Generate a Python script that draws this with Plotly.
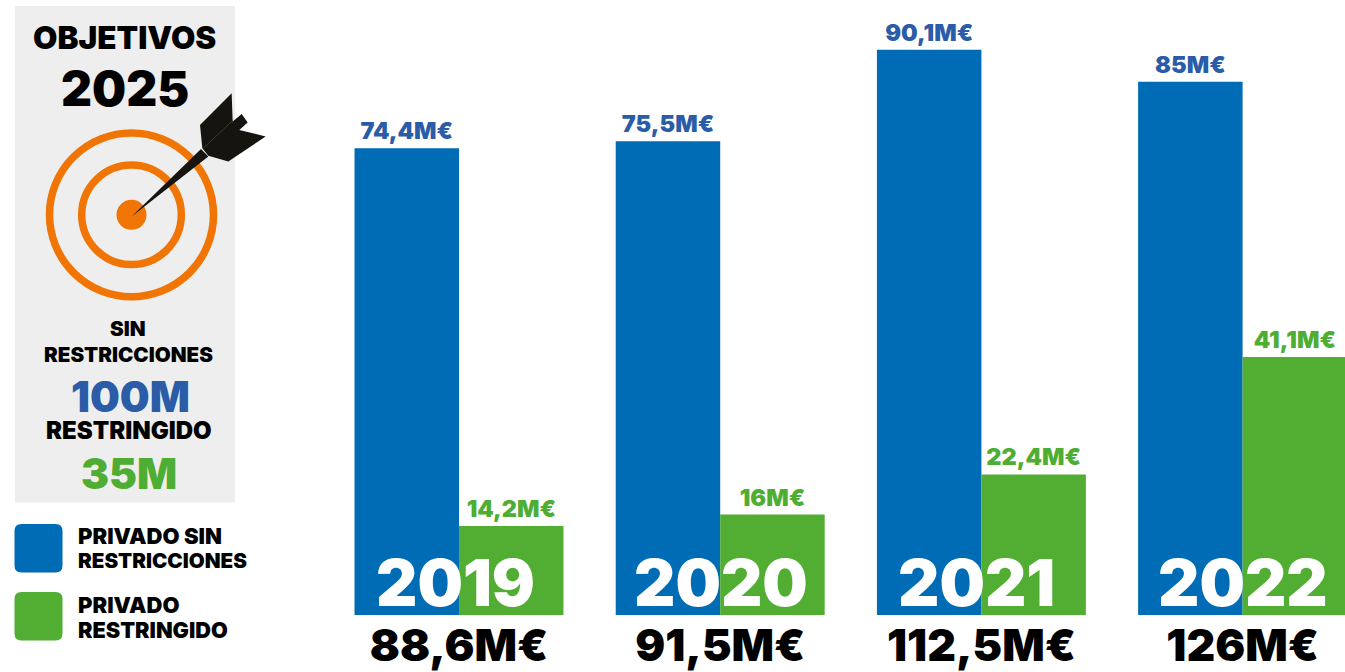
import plotly.graph_objects as go

years = ["2019", "2020", "2021", "2022"]
sin_restricciones = [74.4, 75.5, 90.1, 85.0]
restringido = [14.2, 16.0, 22.4, 41.1]
sin_labels = ["74,4M€", "75,5M€", "90,1M€", "85M€"]
res_labels = ["14,2M€", "16M€", "22,4M€", "41,1M€"]
totales = ["88,6M€", "91,5M€", "112,5M€", "126M€"]

W, H = 1345, 672
BASE = 615.5
PX_PER_M = 6.28
SPACING = 261.2
FIRST_CENTER = 459.0
BLUE, GREEN = "#006CB5", "#52AE32"
BLUE_T, GREEN_T = "#2A5CA8", "#4EAD33"
ORANGE, DART = "#F07504", "#15140E"
FONT = "Inter"


def px(x):
    return x / W


def py(y):
    return (BASE - y) / BASE


def path(points):
    return "M " + " L ".join(f"{px(x):.5f},{py(y):.5f}" for x, y in points) + " Z"


def rounded(x0, y0, x1, y1, r):
    p = lambda x, y: f"{px(x):.5f},{py(y):.5f}"
    return (f"M {p(x0+r,y0)} L {p(x1-r,y0)} Q {p(x1,y0)} {p(x1,y0+r)} L {p(x1,y1-r)} "
            f"Q {p(x1,y1)} {p(x1-r,y1)} L {p(x0+r,y1)} Q {p(x0,y1)} {p(x0,y1-r)} "
            f"L {p(x0,y0+r)} Q {p(x0,y0)} {p(x0+r,y0)} Z")


def circle(cx, cy, r, **kw):
    return dict(type="circle", xref="paper", yref="paper", x0=px(cx - r), x1=px(cx + r),
                y0=py(cy + r), y1=py(cy - r), **kw)


def zoomed(points):
    return [(x / 3, y / 3) for x, y in points]


shapes = [
    dict(type="rect", xref="paper", yref="paper", x0=px(15), x1=px(235), y0=py(503), y1=py(6),
         fillcolor="#EEEEEE", line_width=0, layer="below"),
    circle(131.5, 215, 82, line=dict(color=ORANGE, width=7.5), fillcolor="rgba(0,0,0,0)"),
    circle(131.5, 215, 49.8, line=dict(color=ORANGE, width=7.5), fillcolor="rgba(0,0,0,0)"),
    circle(131.5, 215, 15, line_width=0, fillcolor=ORANGE),
    dict(type="path", xref="paper", yref="paper", line_width=0, fillcolor=DART,
         path=path(zoomed([(395, 650), (603, 447), (625, 470)]))),
    dict(type="path", xref="paper", yref="paper", line_width=0, fillcolor=DART,
         path=path(zoomed([(695, 280), (600, 375), (607, 445), (625, 468), (685, 485), (797, 410),
                           (718, 390), (743, 368), (725, 342), (698, 365)]))),
    dict(type="line", xref="paper", yref="paper", x0=px(610 / 3), y0=py(445 / 3), x1=px(700 / 3),
         y1=py(360 / 3), line=dict(color="#55544E", width=0.6)),
    dict(type="path", xref="paper", yref="paper", line_width=0, fillcolor=BLUE,
         path=rounded(14.5, 524.5, 62.5, 573, 7)),
    dict(type="path", xref="paper", yref="paper", line_width=0, fillcolor=GREEN,
         path=rounded(14.5, 592.5, 62.5, 641, 7)),
]


def label(text, x, y, size, color="#000000", anchor="center"):
    return dict(text=text, xref="paper", yref="paper", x=px(x), y=py(y), xanchor=anchor,
                yanchor="middle", showarrow=False,
                font=dict(family=FONT, size=size, color=color, weight=900))


annotations = [
    label("OBJETIVOS", 125, 38, 31.5),
    label("2025", 125, 89, 48),
    label("SIN", 128, 329, 20.6),
    label("RESTRICCIONES", 128.5, 355, 20.6),
    label("100M", 130, 397, 42, BLUE_T),
    label("RESTRINGIDO", 128.5, 431, 24),
    label("35M", 129, 474, 42, GREEN_T),
    label("PRIVADO SIN", 75.5, 536, 22, anchor="left"),
    label("RESTRICCIONES", 75.5, 561, 20.6, anchor="left"),
    label("PRIVADO", 75.5, 605, 22, anchor="left"),
    label("RESTRINGIDO", 75.5, 631, 21.7, anchor="left"),
]
year_nudge = {"2019": -4, "2020": 1, "2021": -5, "2022": 0}
for i, year in enumerate(years):
    annotations.append(dict(text=year, x=i, y=0, xref="x", yref="y", yanchor="bottom",
                            yshift=-8, xshift=year_nudge[year], showarrow=False,
                            font=dict(family=FONT, size=64, color="#FFFFFF", weight=900)))

fig = go.Figure()
fig.add_bar(x=years, y=sin_restricciones, name="PRIVADO SIN RESTRICCIONES", marker_color=BLUE,
            marker_line_width=0, text=sin_labels, textposition="outside", cliponaxis=False,
            constraintext="none", textfont=dict(family=FONT, size=23.5, color=BLUE_T, weight=900))
fig.add_bar(x=years, y=restringido, name="PRIVADO RESTRINGIDO", marker_color=GREEN,
            marker_line_width=0, text=res_labels, textposition="outside", cliponaxis=False,
            constraintext="none", textfont=dict(family=FONT, size=23.5, color=GREEN_T, weight=900))
fig.update_layout(
    width=W, height=H, barmode="group", bargap=0.2, bargroupgap=0, showlegend=False,
    margin=dict(l=0, r=0, t=0, b=H - BASE, pad=0),
    paper_bgcolor="#FFFFFF", plot_bgcolor="#FFFFFF",
    shapes=shapes, annotations=annotations,
    xaxis=dict(type="category", range=[-FIRST_CENTER / SPACING, (W - FIRST_CENTER) / SPACING],
               tickmode="array", tickvals=years, ticktext=totales, ticks="", showgrid=False,
               showline=False, zeroline=False, ticklabelstandoff=0, automargin=False,
               tickfont=dict(family=FONT, size=44.5, color="#000000", weight=900)),
    yaxis=dict(range=[0, BASE / PX_PER_M], visible=False),
)
fig.write_html("out.html", config={"displayModeBar": False},
               post_script="document.body.style.margin='0';")
